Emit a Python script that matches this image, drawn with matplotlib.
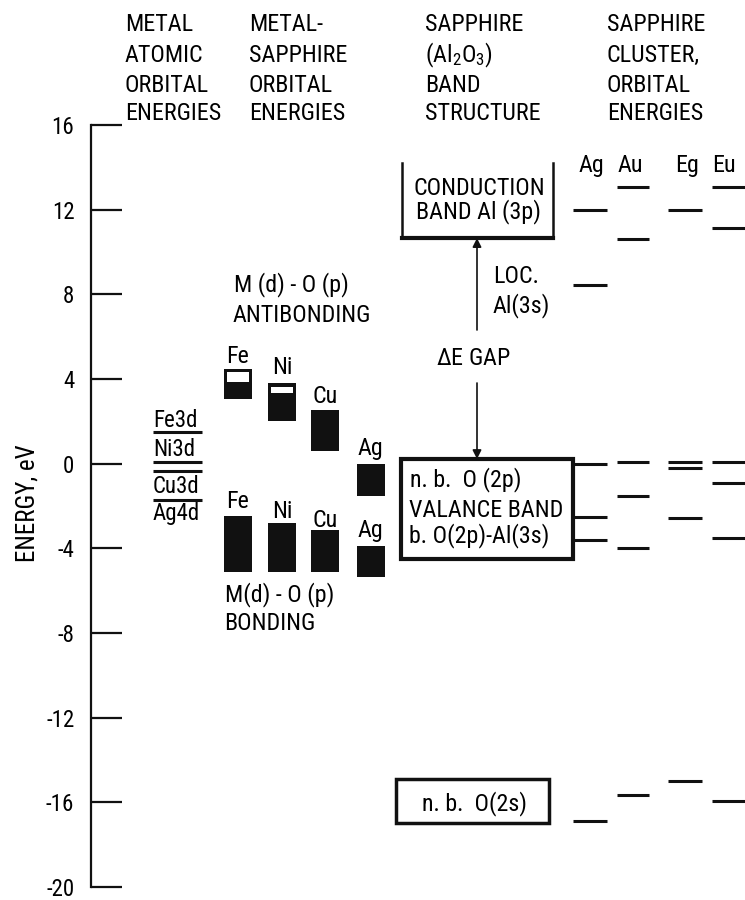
import matplotlib
matplotlib.use('Agg')
import matplotlib.pyplot as plt
from matplotlib import font_manager
from matplotlib.patches import Rectangle

##################
##Data read off ##
##################
yticks = [-20, -16, -12, -8, -4, 0, 4, 8, 12, 16]

atomic_names  = ['Fe3d', 'Ni3d', 'Cu3d', 'Ag4d']
atomic_levels = [1.50, 0.08, -0.35, -1.72]

metals    = ['Fe', 'Ni', 'Cu', 'Ag']
anti_top  = [4.47, 3.81, 2.54, -0.01]   # M(d)-O(p) antibonding bands
anti_bot  = [3.06, 2.02, 0.60, -1.53]
hole_top  = [4.33, 3.62]                # empty part of Fe, Ni bands
hole_bot  = [3.86, 3.34]
bond_top  = [-2.47, -2.80, -3.13, -3.89] # M(d)-O(p) bonding bands
bond_bot  = [-5.12, -5.12, -5.12, -5.35]

conduction = [10.66, 14.21]
valence    = [-4.50, 0.22]
o2s_band   = [-16.98, -14.90]

cluster_names = ['Ag', 'Au', 'Eg', 'Eu']
ag_levels = [11.98, 8.44, -0.01, -2.52, -3.60, -16.88]
au_levels = [13.07, 10.62, 0.08, -1.53, -3.99, -15.65]
eg_levels = [11.98, 0.08, -0.20, -2.57, -14.99]
eu_levels = [13.07, 11.14, 0.08, -0.91, -3.51, -15.94]

#########
##Fonts##
#########
names = {f.name for f in font_manager.fontManager.ttflist}
FONT = 'Liberation Sans'
for cand in ['Liberation Sans Narrow', 'Roboto Condensed', 'Archivo Narrow', 'Barlow Semi Condensed', 'Asap Condensed']:
    if cand in names:
        FONT = cand
        break
plt.rcParams['font.family'] = [FONT, 'DejaVu Sans']
plt.rcParams['mathtext.fontset'] = 'custom'
plt.rcParams['mathtext.rm'] = FONT

# pixel row -> energy (only used for placing text)
Y0, PX = 463.7, 21.167
def ey(py):
    return (Y0 - py) / PX

fs = 17.3
K = '#111111'

fig = plt.figure(figsize=(7.45, 9.0), dpi=100)
ax = fig.add_axes([0, 0, 1, 1])
ax.set_xlim(0, 745)
ax.set_ylim(ey(900), ey(0))

# energy axis
for s in ['top', 'right', 'bottom']:
    ax.spines[s].set_visible(False)
ax.spines['left'].set_position(('data', 91))
ax.spines['left'].set_bounds(-20, 16)
ax.spines['left'].set_linewidth(1.6)
ax.spines['left'].set_color(K)
ax.set_yticks(yticks)
ax.set_yticklabels([str(t) for t in yticks])
ax.tick_params(axis='y', direction='in', length=22, width=1.6, color=K, labelsize=16.5, pad=12)
ax.set_xticks([])
ax.text(27, ey(503), 'ENERGY, eV', rotation=90, ha='center', va='center', fontsize=18)

# column headers
headers = [(125, ['METAL', 'ATOMIC', 'ORBITAL', 'ENERGIES']),
           (249, ['METAL-', 'SAPPHIRE', 'ORBITAL', 'ENERGIES']),
           (425, ['SAPPHIRE', r'$\mathregular{(Al_2O_3)}$', 'BAND', 'STRUCTURE']),
           (607, ['SAPPHIRE', 'CLUSTER,', 'ORBITAL', 'ENERGIES'])]
for xh, rows in headers:
    for yb, t in zip([31, 62, 92, 120], rows):
        ax.text(xh, ey(yb), t, ha='left', va='baseline', fontsize=fs)

# metal atomic orbitals
ax.hlines(atomic_levels, 153, 202, color=K, lw=2.2)
for t, yb in zip(atomic_names, [427, 456, 493, 520]):
    ax.text(153, ey(yb), t, ha='left', va='baseline', fontsize=16.5)

# metal-sapphire bands
xc = [237.5, 282, 325, 370.5]
ax.bar(xc, [t - b for t, b in zip(anti_top, anti_bot)], bottom=anti_bot, width=28, color=K)
ax.bar(xc[:2], [t - b for t, b in zip(hole_top, hole_bot)], bottom=hole_bot, width=22, color='white')
ax.bar(xc, [t - b for t, b in zip(bond_top, bond_bot)], bottom=bond_bot, width=28, color=K)
for m, x, yb in zip(metals, xc, [363, 374, 403, 455]):
    ax.text(x, ey(yb), m, ha='center', va='baseline', fontsize=fs)
for m, x, yb in zip(metals, xc, [508, 518, 527, 537]):
    ax.text(x, ey(yb), m, ha='center', va='baseline', fontsize=fs)
ax.text(234, ey(291), 'M (d) - O (p)', ha='left', va='baseline', fontsize=fs)
ax.text(233, ey(322), 'ANTIBONDING', ha='left', va='baseline', fontsize=fs)
ax.text(225, ey(601), 'M(d) - O (p)', ha='left', va='baseline', fontsize=fs)
ax.text(224, ey(630), 'BONDING', ha='left', va='baseline', fontsize=fs)

# sapphire band structure
ax.plot([402, 402, 553, 553], [conduction[1], conduction[0], conduction[0], conduction[1]], color=K, lw=1.8)
ax.plot([402, 553], [conduction[0], conduction[0]], color=K, lw=3)
ax.text(479, ey(218), 'CONDUCTION\nBAND Al (3p)', ha='center', va='baseline',
        fontsize=fs, multialignment='center', linespacing=0.92)
ax.add_patch(Rectangle((401, valence[0]), 172, valence[1] - valence[0], fill=False, ec=K, lw=3))
ax.text(410, ey(486), 'n. b.  O (2p)', ha='left', va='baseline', fontsize=fs)
ax.text(409, ey(517), 'VALANCE BAND', ha='left', va='baseline', fontsize=fs)
ax.text(409, ey(542), 'b. O(2p)-Al(3s)', ha='left', va='baseline', fontsize=fs)
ax.add_patch(Rectangle((396, o2s_band[0]), 153, o2s_band[1] - o2s_band[0], fill=False, ec=K, lw=2.5))
ax.text(475, ey(810), 'n. b.  O(2s)', ha='center', va='baseline', fontsize=fs)

arr = dict(arrowstyle='-|>', color=K, lw=1.2, mutation_scale=13, shrinkA=0, shrinkB=0)
ax.annotate('', xy=(477, conduction[0]), xytext=(477, ey(330)), arrowprops=arr)
ax.annotate('', xy=(477, valence[1]), xytext=(477, ey(383)), arrowprops=arr)
ax.text(473, ey(365), r'$\mathregular{\Delta}$E GAP', ha='center', va='baseline', fontsize=fs)
ax.text(493, ey(283), 'LOC.', ha='left', va='baseline', fontsize=fs)
ax.text(493, ey(312), 'Al(3s)', ha='left', va='baseline', fontsize=fs)

# sapphire cluster orbital energies
cols = [(573, 607, ag_levels), (617, 649, au_levels), (668, 702, eg_levels), (712, 745, eu_levels)]
for (x0, x1, lv) in cols:
    ax.hlines(lv, x0, x1, color=K, lw=2.2)
for c, x in zip(cluster_names, [579, 618, 675, 712]):
    ax.text(x, ey(172), c, ha='left', va='baseline', fontsize=fs)

fig.savefig('out.png', dpi=100)
